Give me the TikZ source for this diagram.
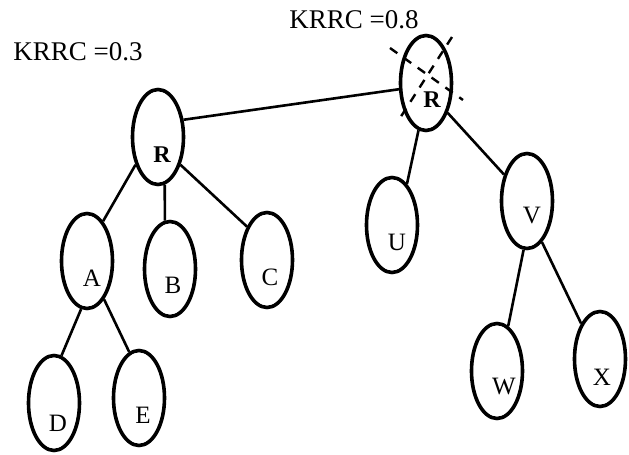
\documentclass[tikz,border=0pt]{standalone}
\usepackage{fontspec}
\setmainfont{Liberation Serif}
\usetikzlibrary{shapes.geometric,calc}
\tikzset{
  tnode/.style={ellipse,draw=black,line width=1.8pt,inner sep=0pt,
                minimum width=25.5pt,minimum height=47.5pt},
  lbl/.style={font=\fontsize{12.5}{14}\selectfont,inner sep=0pt},
  rlbl/.style={font=\fontsize{12}{14}\selectfont\bfseries,inner sep=0pt},
  edge/.style={line width=1.3pt,draw=black},
  cross/.style={line width=1.2pt,draw=black,dash pattern=on 4.5pt off 4pt},
  note/.style={font=\fontsize{13.5}{15}\selectfont,inner sep=0pt}
}
\begin{document}
\begin{tikzpicture}[x=0.5pt,y=-0.5pt]
    \path[use as bounding box] (0,0) rectangle (629,455);
    % left tree
    \node[tnode,label={[rlbl,shift={(4,18)}]center:R}] (Rl) at (158,137) {};
    \node[tnode,label={[lbl,shift={(5,17)}]center:A}] (A) at (87,261) {};
    \node[tnode,label={[lbl,shift={(3,16)}]center:B}] (B) at (170,269) {};
    \node[tnode,label={[lbl,shift={(3,17)}]center:C}] (C) at (267,260) {};
    \node[tnode,label={[lbl,shift={(4,20)}]center:D}] (D) at (54,403) {};
    \node[tnode,label={[lbl,shift={(4,17)}]center:E}] (E) at (139,398) {};
    % right tree
    \node[tnode,label={[rlbl,shift={(6,17)}]center:R}] (Rr) at (426,83) {};
    \node[tnode,label={[lbl,shift={(5,17)}]center:U}] (U) at (392,225) {};
    \node[tnode,label={[lbl,shift={(5,15)}]center:V}] (V) at (527,201) {};
    \node[tnode,label={[lbl,shift={(7,16)}]center:W}] (W) at (497,371) {};
    \node[tnode,label={[lbl,shift={(2,18)}]center:X}] (X) at (600,359) {};
    \node[note] (kl) at (78,52) {KRRC =0.3};
    \node[note] (kr) at (354,20) {KRRC =0.8};
    \draw[edge] (Rl.34) -- (Rr.-167);
    \draw[edge] (Rl.-129) -- (A.68);
    \draw[edge] (Rl.-82) -- (B.96);
    \draw[edge] (Rl.-51) -- (C.121);
    \draw[edge] (A.-97) -- (D.81);
    \draw[edge] (A.-66) -- (E.102);
    \draw[edge] (Rr.-99) -- (U.70);
    \draw[edge] (Rr.-54) -- (V.131);
    \draw[edge] (V.-94) -- (W.76);
    \draw[edge] (V.-70) -- (X.118);
    % crossed-out root
    \coordinate (c1) at ($(Rr)+(-36,-35)$);
    \coordinate (c2) at ($(Rr)+(37,17)$);
    \coordinate (c3) at ($(Rr)+(26,-46)$);
    \coordinate (c4) at ($(Rr)+(-26,35)$);
    \draw[cross] (c1) -- (c2);
    \draw[cross] (c3) -- (c4);
\end{tikzpicture}
\end{document}
